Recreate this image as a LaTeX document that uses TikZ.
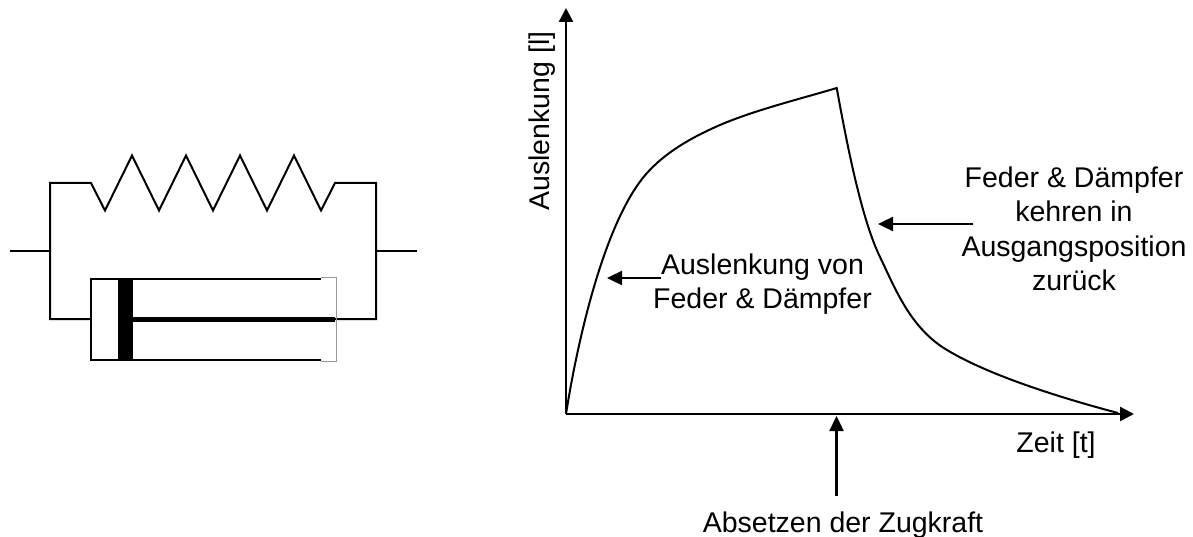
\documentclass[tikz,border=0pt]{standalone}
\usepackage{fontspec}
\setmainfont{Liberation Sans}
\usetikzlibrary{arrows.meta}
\tikzset{
  wire/.style={line width=2pt,line join=miter},
  ax/.style={line width=2.4pt,-{Triangle[length=14pt,width=14pt]}},
  call/.style={line width=2.4pt,-{Triangle[length=15pt,width=14pt]}},
  crv/.style={line width=2pt,line join=miter},
  txt/.style={font=\fontsize{28.5pt}{34.5pt}\selectfont,align=center,inner sep=0pt}
}
\begin{document}
\begin{tikzpicture}[x=1pt,y=-1pt]
\useasboundingbox (0,0) rectangle (1193,537);
% Spring and wires
\draw[wire] (10,251.5) -- (50,251.5);
\draw[wire] (91,319) -- (50,319) -- (50,183) -- (91,183) -- (105,210.5) -- (132,155.5) -- (159,210.5) -- (186,155.5) -- (213,210.5) -- (240,155.5) -- (267,210.5) -- (294,155.5) -- (321,210.5) -- (335,183) -- (376,183) -- (376,319) -- (335,319);
\draw[wire] (376,251.5) -- (417,251.5);
% Damper
\draw[line width=.8pt,black!40] (321,277.5) -- (336.5,277.5) -- (336.5,361) -- (321,361);
\draw[wire] (321,278.5) -- (91,278.5) -- (91,360) -- (321,360);
\fill (118,277.5) rectangle (133,361);
\draw[line width=5pt] (133,319) -- (335,319);
% Axes
\coordinate (o) at (566,414);
\coordinate (ytip) at (566,8);
\coordinate (xtip) at (1134,414);
\draw[ax] (o) -- (ytip);
\draw[ax] (o) -- (xtip);
% Curve
\coordinate (peak) at (836.7,88);
\draw[crv] (o) .. controls (578,338) and (605,220) .. (647,173)
  .. controls (665,153) and (690,138) .. (720,125)
  .. controls (755,110) and (800,99) .. (peak)
  .. controls (848,150) and (862,220) .. (880,257)
  .. controls (895,288) and (910,328) .. (947,350)
  .. controls (985,373) and (1050,395) .. (1118,413);
% Labels
\node[txt] (a) at (762.5,284) {Auslenkung von\\Feder \& Dämpfer};
\node[txt] (b) at (1074,229) {Feder \& Dämpfer\\kehren in\\Ausgangsposition\\zurück};
\node[txt] (c) at (843,525) {Absetzen der Zugkraft};
\node[txt] (d) at (1056,445.5) {Zeit [t]};
\node[txt,rotate=90] (e) at (542,121) {Auslenkung [l]};
% Callouts
\coordinate (a1) at (607,278);
\coordinate (a0) at (661,278);
\coordinate (b1) at (878,224);
\coordinate (b0) at (973,224);
\coordinate (c1) at (836.5,416);
\coordinate (c0) at (836.5,496);
\draw[call] (a0) -- (a1);
\draw[call] (b0) -- (b1);
\draw[call] (c0) -- (c1);
\end{tikzpicture}
\end{document}
